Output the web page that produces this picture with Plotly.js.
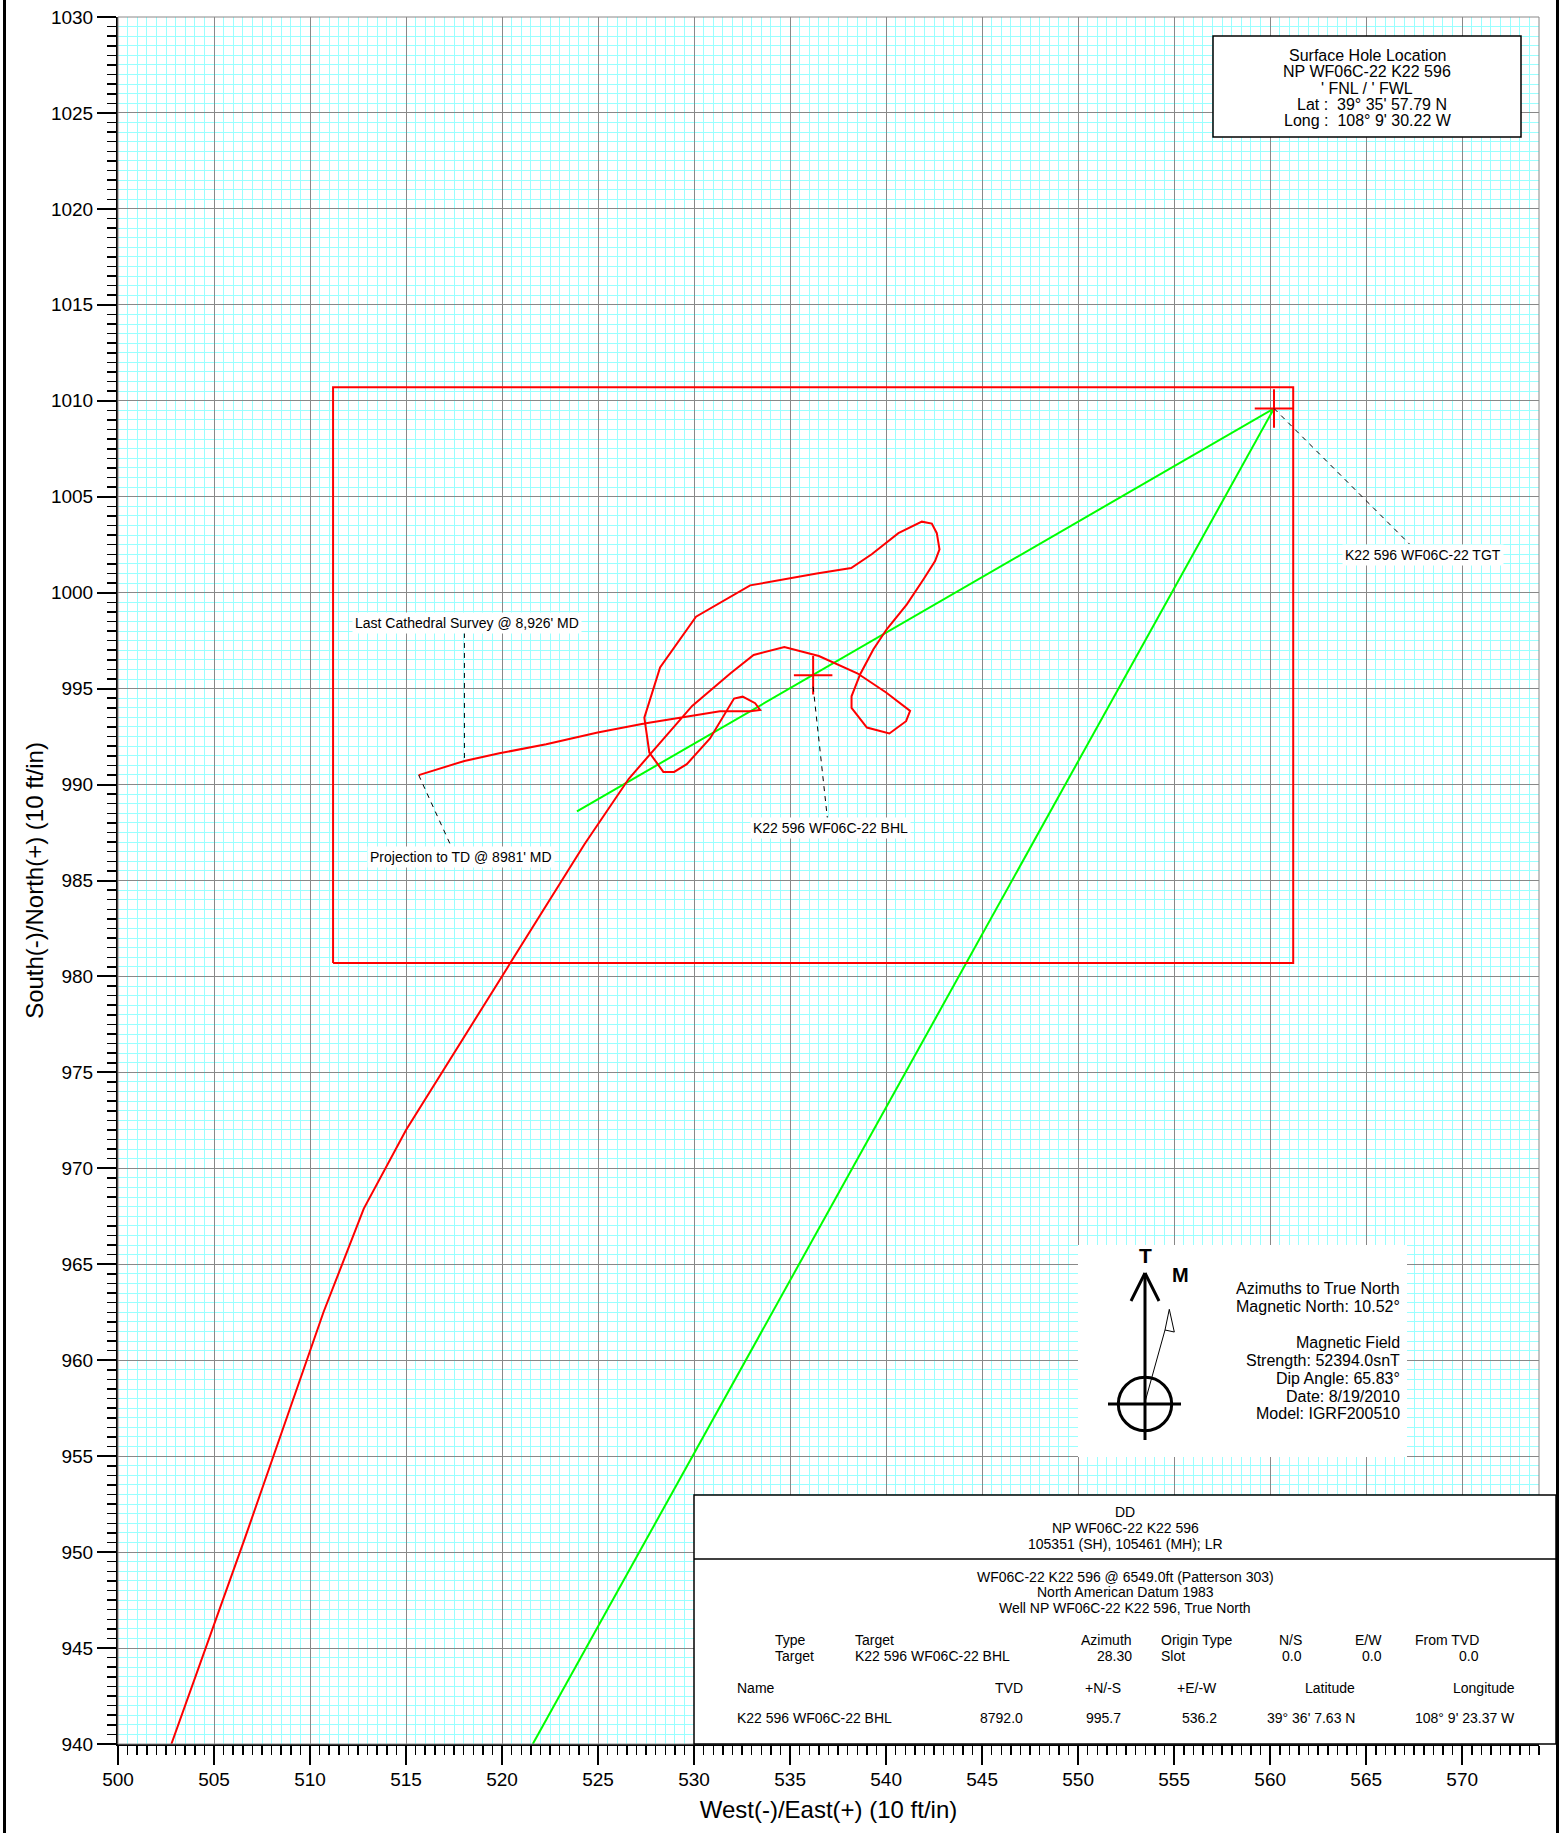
<!DOCTYPE html>
<html>
<head>
<meta charset="utf-8">
<script src="https://cdn.plot.ly/plotly-3.0.1.min.js"></script>
<style>html,body{margin:0;padding:0;background:#fff;overflow:hidden}</style>
</head>
<body>
<div id="chart" style="width:1562px;height:1833px"></div>
<script>
// ---------------- DATA ----------------
const wellPathX = [502.78, 506.6, 510.7, 512.8, 515.0, 520.0, 524.3, 526.6, 529.9, 531.9, 533.1, 534.7, 536.5, 538.5, 540.0, 541.25, 541.04, 540.17, 539.0, 538.2, 538.2, 538.65, 539.34, 540.03, 541.08, 541.94, 542.55, 542.78, 542.64, 542.38, 541.86, 540.64, 539.25, 538.18, 536.39, 532.92, 530.1, 528.23, 527.41, 527.67, 528.4, 528.96, 529.62, 530.83, 532.08, 532.53, 533.18, 533.44, 532.92, 531.35, 529.58, 527.41, 524.98, 522.3, 519.86, 518.04, 515.66];
const wellPathY = [940.0, 950.7, 962.5, 967.9, 972.0, 980.0, 986.9, 990.3, 994.1, 995.8, 996.75, 997.17, 996.7, 995.8, 994.8, 993.84, 993.3, 992.66, 992.97, 994.0, 994.6, 995.75, 997.05, 998.09, 999.39, 1000.69, 1001.65, 1002.26, 1003.1, 1003.6, 1003.7, 1003.1, 1002.0, 1001.28, 1001.0, 1000.38, 998.75, 996.1, 993.49, 991.67, 990.66, 990.66, 991.06, 992.4, 994.48, 994.58, 994.24, 993.89, 993.82, 993.82, 993.54, 993.18, 992.71, 992.1, 991.63, 991.23, 990.49];

const planLineX = [521.6, 560.2];
const planLineY = [940.0, 1009.6];
const targetLineX = [523.9, 560.2];
const targetLineY = [988.6, 1009.6];

const crossNames = ["K22 596 WF06C-22 BHL", "K22 596 WF06C-22 TGT"];
const crossX = [536.2, 560.2];
const crossY = [995.7, 1009.6];

const targetBoxX = [511.2, 561.2];
const targetBoxY = [980.7, 1010.7];

const xTickVals = [500, 505, 510, 515, 520, 525, 530, 535, 540, 545, 550, 555, 560, 565, 570];
const yTickVals = [940, 945, 950, 955, 960, 965, 970, 975, 980, 985, 990, 995, 1000, 1005, 1010, 1015, 1020, 1025, 1030];

const surfaceLines = ["Surface Hole Location", "NP WF06C-22 K22 596", "' FNL / ' FWL", "Lat :  39° 35' 57.79 N", "Long :  108° 9' 30.22 W"];
const northLines = ["Azimuths to True North", "Magnetic North: 10.52°", "", "Magnetic Field", "Strength: 52394.0snT", "Dip Angle: 65.83°", "Date: 8/19/2010", "Model: IGRF200510"];
const headerLines = ["DD", "NP WF06C-22 K22 596", "105351 (SH), 105461 (MH); LR"];
const infoLines = ["WF06C-22 K22 596 @ 6549.0ft (Patterson 303)", "North American Datum 1983", "Well NP WF06C-22 K22 596, True North"];
const targetHeader = ["Type", "Target", "Azimuth", "Origin Type", "N/S", "E/W", "From TVD"];
const targetRow = ["Target", "K22 596 WF06C-22 BHL", "28.30", "Slot", "0.0", "0.0", "0.0"];
const pointHeader = ["Name", "TVD", "+N/-S", "+E/-W", "Latitude", "Longitude"];
const pointRow = ["K22 596 WF06C-22 BHL", "8792.0", "995.7", "536.2", "39° 36' 7.63 N", "108° 9' 23.37 W"];

// ---------------- LAYOUT HELPERS ----------------
const FONT = "Liberation Sans, Arial, Helvetica, sans-serif";
const W = 1562, H = 1833;
const ML = 118, MT = 17, MR = 23, MB = 89;
const PW = W - ML - MR, PH = H - MT - MB;
const px = x => (x - ML) / PW;
const py = y => (MT + PH - y) / PH;

function txt(text, x, y, o) {
  o = o || {};
  return Object.assign({
    text: text, x: px(x), y: py(y), xref: 'paper', yref: 'paper',
    showarrow: false, xanchor: 'center', yanchor: 'middle',
    font: {family: FONT, size: o.size || 14, color: '#000'}
  }, o.extra || {});
}
function pline(x0, y0, x1, y1, w, dash) {
  return {type: 'line', xref: 'paper', yref: 'paper', x0: px(x0), y0: py(y0), x1: px(x1), y1: py(y1),
    line: {color: '#000', width: w, dash: dash || 'solid'}, layer: 'above'};
}
function prect(x0, y0, x1, y1, w, fill) {
  return {type: 'rect', xref: 'paper', yref: 'paper', x0: px(x0), y0: py(y1), x1: px(x1), y1: py(y0),
    line: {color: w > 0 ? '#000' : 'rgba(0,0,0,0)', width: w}, fillcolor: fill || 'rgba(0,0,0,0)', layer: 'above'};
}
function dline(x0, y0, x1, y1) {
  return {type: 'line', xref: 'x', yref: 'y', x0: x0, y0: y0, x1: x1, y1: y1,
    line: {color: '#000', width: 1, dash: '5px,5px'}, layer: 'above'};
}

// ---------------- TRACES ----------------
const traces = [
  {x: planLineX, y: planLineY, mode: 'lines', line: {color: '#00ff00', width: 2}, hoverinfo: 'skip'},
  {x: targetLineX, y: targetLineY, mode: 'lines', line: {color: '#00ff00', width: 2}, hoverinfo: 'skip'},
  {x: [targetBoxX[0], targetBoxX[1], targetBoxX[1], targetBoxX[0], targetBoxX[0]],
   y: [targetBoxY[0], targetBoxY[0], targetBoxY[1], targetBoxY[1], targetBoxY[0]],
   mode: 'lines', line: {color: '#ff0000', width: 2}, hoverinfo: 'skip'},
  {x: wellPathX, y: wellPathY, mode: 'lines', line: {color: '#ff0000', width: 2}, hoverinfo: 'skip'},
  {x: crossX, y: crossY, text: crossNames, mode: 'markers', hoverinfo: 'skip',
   marker: {symbol: 'cross-thin', size: 27.5, color: '#ff0000', line: {color: '#ff0000', width: 2}}}
];

// ---------------- SHAPES ----------------
const shapes = [
  {type: 'rect', xref: 'paper', yref: 'paper', x0: 0, y0: 0, x1: 1, y1: 1, line: {color: '#888', width: 1}, layer: 'above'},
  pline(4.5, 0, 4.5, H, 3),
  pline(1557.5, 0, 1557.5, H, 3),
  dline(518.04, 997.9, 518.04, 991.23),
  dline(515.66, 990.49, 517.34, 986.8),
  dline(536.2, 995.1, 536.94, 988.26),
  dline(560.2, 1009.6, 567.26, 1002.53),
  prect(1213, 36, 1521, 137, 1.5, '#fff'),
  prect(1078, 1245, 1407, 1457, 0, '#fff'),
  pline(1145, 1273, 1145, 1440, 3),
  pline(1145, 1273, 1131, 1301, 3),
  pline(1145, 1273, 1159, 1301, 3),
  pline(1108, 1404, 1181, 1404, 3),
  {type: 'circle', xref: 'paper', yref: 'paper', x0: px(1118.3), x1: px(1171.7), y0: py(1430.7), y1: py(1377.3),
   line: {color: '#000', width: 3}, layer: 'above'},
  pline(1145, 1402, 1165, 1330, 1),
  {type: 'path', xref: 'paper', yref: 'paper', layer: 'above', line: {color: '#000', width: 1}, fillcolor: '#fff',
   path: 'M' + px(1165) + ',' + py(1330) + ' L' + px(1174.3) + ',' + py(1332) + ' L' + px(1169.3) + ',' + py(1309.3) + ' Z'},
  prect(694, 1495, 1556, 1744, 1.5, '#fff'),
  pline(694, 1559, 1556, 1559, 1.5)
];

// ---------------- ANNOTATIONS ----------------
const ann = [];
function dlabel(text, x, y) {
  return {text: text, x: x, y: y, xref: 'x', yref: 'y', showarrow: false, bgcolor: '#fff', borderpad: 2,
    font: {family: FONT, size: 14, color: '#000'}};
}
ann.push(dlabel("Last Cathedral Survey @ 8,926' MD", 518.2, 998.44));
ann.push(dlabel("Projection to TD @ 8981' MD", 517.85, 986.23));
ann.push(dlabel(crossNames[0], 537.08, 987.75));
ann.push(dlabel(crossNames[1], 567.98, 1001.94));

const surfY = [55, 72, 88, 104, 120];
const surfX = [1367, 1367, 1367, 1372, 1368];
surfaceLines.forEach((t, i) => ann.push(txt(t, surfX[i], surfY[i], {size: 16})));

ann.push(txt('<b>T</b>', 1145, 1256, {size: 21}));
ann.push(txt('<b>M</b>', 1180, 1275, {size: 20}));
const northY = [1288, 1306, 1324, 1342, 1360, 1378, 1396, 1413];
northLines.forEach((t, i) => { if (t) ann.push(txt(t, 1402, northY[i], {size: 16, extra: {xanchor: 'right'}})); });

const hdrY = [1512, 1528, 1544];
headerLines.forEach((t, i) => ann.push(txt(t, 1125, hdrY[i], {size: 14})));
const infoY = [1577, 1592, 1608];
infoLines.forEach((t, i) => ann.push(txt(t, 1125, infoY[i], {size: 14})));
const tgtColX = [773, 853, 1134, 1159, 1304, 1384, 1481];
const tgtColA = ['left', 'left', 'right', 'left', 'right', 'right', 'right'];
targetHeader.forEach((t, i) => ann.push(txt(t, tgtColX[i], 1640, {size: 14, extra: {xanchor: tgtColA[i]}})));
targetRow.forEach((t, i) => ann.push(txt(t, tgtColX[i], 1656, {size: 14, extra: {xanchor: tgtColA[i]}})));
const ptColX = [735, 1025, 1123, 1219, 1357, 1517];
const ptColA = ['left', 'right', 'right', 'right', 'right', 'right'];
pointHeader.forEach((t, i) => ann.push(txt(t, ptColX[i], 1688, {size: 14, extra: {xanchor: ptColA[i]}})));
pointRow.forEach((t, i) => ann.push(txt(t, ptColX[i], 1718, {size: 14, extra: {xanchor: ptColA[i]}})));

// ---------------- AXES ----------------
const axisCommon = {
  tickmode: 'linear', dtick: 5,
  ticks: 'outside', ticklen: 19, tickwidth: 2, tickcolor: '#000',
  showline: true, linecolor: '#000', linewidth: 2,
  showgrid: true, gridcolor: '#888', gridwidth: 1, zeroline: false,
  tickfont: {family: FONT, size: 19, color: '#000'},
  fixedrange: true
};
const minorCommon = {tickmode: 'linear', dtick: 0.5, ticks: 'outside', ticklen: 9, tickwidth: 1.5, tickcolor: '#000',
  showgrid: true, gridcolor: '#99ffff', gridwidth: 1};

const layout = {
  width: W, height: H,
  margin: {l: ML, r: MR, t: MT, b: MB, pad: 0},
  paper_bgcolor: '#fff', plot_bgcolor: '#fff',
  showlegend: false, hovermode: false,
  xaxis: Object.assign({}, axisCommon, {
    range: [500, 574], tick0: xTickVals[0],
    ticklabelstandoff: -2,
    minor: Object.assign({tick0: 500}, minorCommon),
    title: {text: 'West(-)/East(+) (10 ft/in)', font: {family: FONT, size: 24, color: '#000'}, standoff: 12}
  }),
  yaxis: Object.assign({}, axisCommon, {
    range: [940, 1030], tick0: yTickVals[0],
    minor: Object.assign({tick0: 940}, minorCommon),
    title: {text: 'South(-)/North(+) (10 ft/in)', font: {family: FONT, size: 24, color: '#000'}, standoff: 1}
  }),
  shapes: shapes,
  annotations: ann
};

Plotly.newPlot('chart', traces, layout, {displayModeBar: false, staticPlot: true});
</script>
</body>
</html>
